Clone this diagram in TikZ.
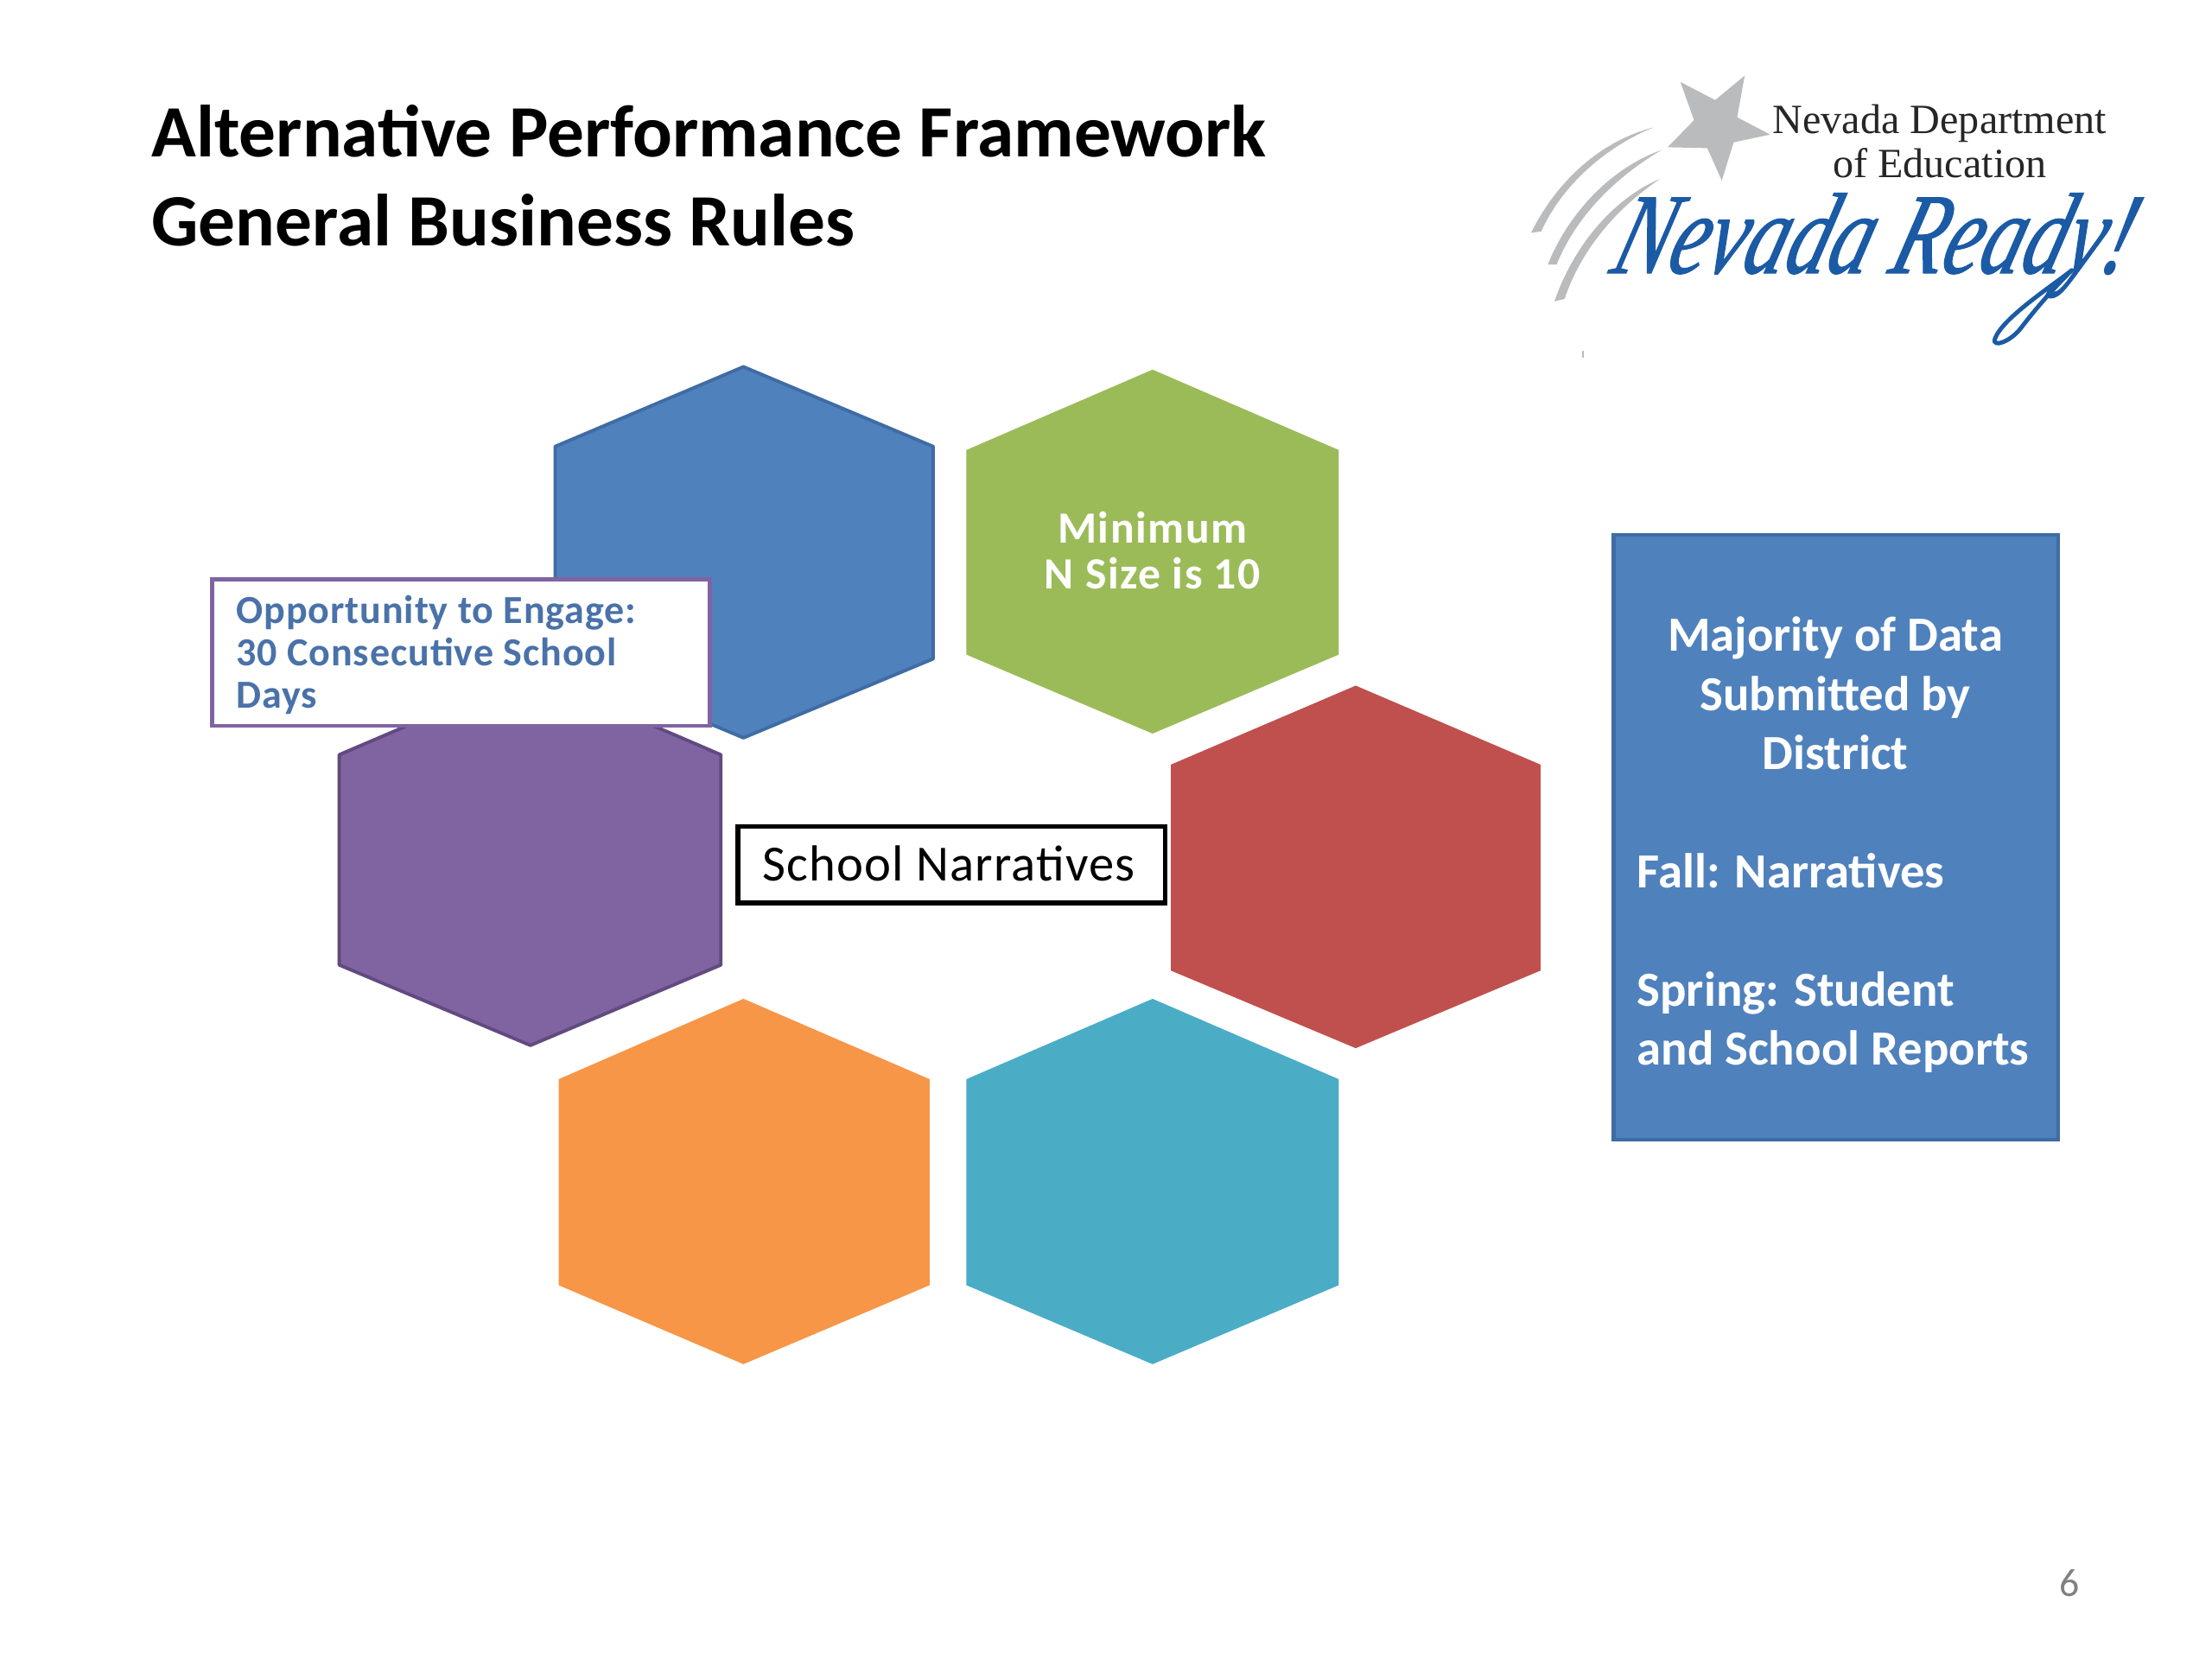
\documentclass[tikz,border=0pt]{standalone}
\usepackage{fontspec}
\setmainfont{Carlito}
\newfontfamily\logoserif{Liberation Serif}
\newfontfamily\rdy[UprightFont=* Italic,FakeSlant=0.3,FakeStretch=0.73,FakeBold=0.8]{Liberation Serif}
\definecolor{cblue}{HTML}{4F81BD}
\definecolor{cblueD}{HTML}{3F6CA3}
\definecolor{cgreen}{HTML}{9BBB59}
\definecolor{cred}{HTML}{C0504D}
\definecolor{cpurple}{HTML}{8064A2}
\definecolor{cpurpleD}{HTML}{614A80}
\definecolor{corange}{HTML}{F79646}
\definecolor{cteal}{HTML}{4BACC6}
\definecolor{cstar}{HTML}{B9BBBD}
\definecolor{cready}{HTML}{1B5AA5}
\definecolor{cnote}{HTML}{4A72A9}
\tikzset{
  hex/.style={line join=round},
  titletext/.style={anchor=west,font=\fontsize{24.3}{30}\selectfont\bfseries,text=black,inner sep=0pt},
  sidetext/.style={text=white,font=\fontsize{16.15}{19.5}\selectfont\bfseries,inner sep=0pt},
  notetext/.style={text=cnote,font=\fontsize{13.1}{14.4}\selectfont\bfseries,anchor=base west,inner sep=0pt},
  swoosh/.style={fill=cstar,draw=none},
}
\begin{document}
\begin{tikzpicture}[x=0.016327cm,y=-0.016327cm]
\useasboundingbox (0,0) rectangle (1568,1176);
\fill[white] (0,0) rectangle (1568,1176);
% title
\node[titletext] (t1) at (107,93) {Alternative Performance Framework};
\node[titletext] (t2) at (107,156) {General Business Rules};
% hexagons
\filldraw[hex,fill=cblue,draw=cblueD,line width=1.1pt] (527,260)--(661.5,316.5)--(661.5,467)--(527,523)--(393.5,467)--(393.5,316.5)--cycle;
\fill[hex,cgreen] (817,262)--(949,319)--(949,464)--(817,520)--(685,464)--(685,319)--cycle;
\fill[hex,cred] (961,486)--(1092,542)--(1092,688)--(961,743)--(830,688)--(830,542)--cycle;
\filldraw[hex,fill=cpurple,draw=cpurpleD,line width=1.1pt] (376,477)--(511,535)--(511,684)--(376,741)--(240.5,684)--(240.5,535)--cycle;
\fill[hex,corange] (527,708)--(659,765)--(659,911)--(527,967)--(396,911)--(396,765)--cycle;
\fill[hex,cteal] (817,708)--(949,765)--(949,911)--(817,967)--(685,911)--(685,765)--cycle;
\node[text=white,font=\fontsize{14.7}{15}\selectfont\bfseries,align=center,inner sep=0pt] (minn) at (817,390) {\addfontfeature{LetterSpace=3}Minimum\\\addfontfeature{LetterSpace=3}N Size is 10};
% opportunity box
\filldraw[fill=white,draw=cpurple,line width=1.3pt] (150.5,410.5) rectangle (503,514.5);
\node[notetext] (o1) at (167,442) {\addfontfeature{LetterSpace=2}Opportunity to Engage:};
\node[notetext] (o2) at (167,472) {\addfontfeature{LetterSpace=2}30 Consecutive School};
\node[notetext] (o3) at (167,502) {\addfontfeature{LetterSpace=2}Days};
% narratives
\filldraw[fill=white,draw=black,line width=1.5pt] (523,586) rectangle (826,640);
\node[inner sep=0pt,font=\fontsize{16.7}{20}\selectfont] (snt) at (672.5,612) {\addfontfeature{LetterSpace=2}School Narratives};
% side panel
\filldraw[fill=cblue,draw=cblueD,line width=1.3pt] (1144,379) rectangle (1459,808);
\node[sidetext,align=center] (s1) at (1301,491.5) {Majority of Data\\Submitted by\\District};
\node[sidetext,anchor=west] (s2) at (1160,617) {Fall: Narratives};
\node[sidetext,anchor=west,align=left] (s3) at (1160,724.5) {Spring: Student\\and School Reports};
% page number
\node[text=black!50,font=\fontsize{13}{16}\selectfont,inner sep=0pt] (pg) at (1467,1122) {6};
% logo, in coordinates of the logo crop
\begin{scope}[shift={(1053.5,30.6)},x=0.0051cm,y=-0.003333cm]
\fill[cstar,line join=round] (587,113)--(570,258)--(645,318)--(562,345)--(535,478)--(502,365)--(412,362)--(472,268)--(441,135)--(520,198)--cycle;
\fill[swoosh] (380,293) .. controls (260,340) and (160,480) .. (102,660) -- (125,655) .. controls (172,495) and (270,362) .. (380,293) -- cycle;
\fill[swoosh] (398,372) .. controls (290,430) and (190,580) .. (140,770) -- (160,770) .. controls (205,600) and (295,465) .. (398,372) -- cycle;
\fill[swoosh] (395,472) .. controls (290,540) and (200,700) .. (155,898) -- (178,890) .. controls (215,720) and (295,575) .. (395,472) -- cycle;
\fill[cstar] (218,1070) rectangle (222,1095);
\node[inner sep=0pt,anchor=base,font=\logoserif\fontsize{13.7}{16}\selectfont,text=black!85] (l1) at (1030,315) {Nevada Department};
\node[inner sep=0pt,anchor=base,font=\logoserif\fontsize{13.7}{16}\selectfont,text=black!85] (l2) at (1030,468) {of Education};
\node[inner sep=0pt,anchor=base west,text=cready,font=\rdy\fontsize{38}{38}\selectfont] (l3) at (275,800) {Nevada Ready!};
\draw[cready,line width=1.4pt,line cap=round] (1330,790) .. controls (1280,850) and (1170,960) .. (1155,1030) .. controls (1150,1060) and (1190,1040) .. (1215,990) .. controls (1250,920) and (1290,850) .. (1330,790);
\end{scope}
\end{tikzpicture}
\end{document}
